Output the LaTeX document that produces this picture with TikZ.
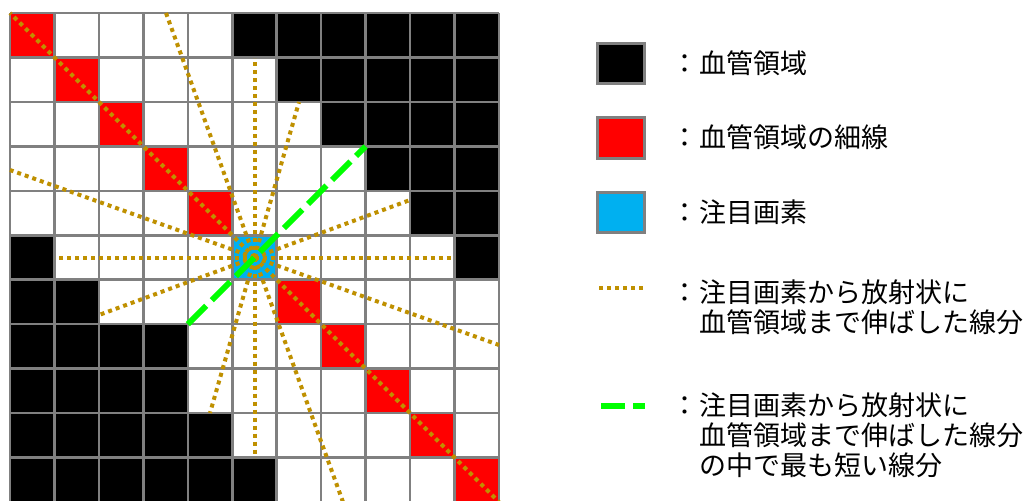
\documentclass[tikz,border=0pt]{standalone}
\usepackage{fontspec}
\newfontfamily\cjk{Noto Sans CJK JP}
\definecolor{gold}{HTML}{BF9000}
\definecolor{pxblue}{HTML}{00B0F0}
\definecolor{gridgray}{HTML}{808080}
\definecolor{shortgreen}{HTML}{00FF00}
\definecolor{thinred}{HTML}{FF0000}
\begin{document}
\begin{tikzpicture}[x=1pt,y=-1pt,
  ray/.style={draw=gold, line width=4pt, dash pattern=on 4pt off 4pt},
  shortest/.style={draw=shortgreen, line width=6pt, dash pattern=on 26pt off 8pt},
  cellgrid/.style={draw=gridgray, line width=2.6pt},
  legendbox/.style={draw=gridgray, line width=3pt},
  legtext/.style={font=\cjk\fontsize{27pt}{30pt}\selectfont, inner sep=0pt, anchor=west, text height=23.5pt, text depth=3.5pt},
  legcolon/.style={font=\cjk\fontsize{27pt}{30pt}\selectfont, inner sep=0pt, anchor=center, text height=23.5pt, text depth=3.5pt},
]
\useasboundingbox (0,0) rectangle (1029,501);
\def\s{44.45}
\begin{scope}
\clip (0,0) rectangle (1029,501);
% background of grid
\fill[white] (10,13) rectangle ({10+11*\s},{13+11*\s});
% vessel region (black)
\foreach \r/\a/\b in {0/5/10,1/6/10,2/7/10,3/8/10,4/9/10,5/0/0,5/10/10,6/0/1,7/0/3,8/0/3,9/0/4,10/0/5}{
  \foreach \c in {\a,...,\b}{
    \fill[black] ({10+\c*\s},{13+\r*\s}) rectangle ++(\s,\s);
  }
}
% thin line (red)
\foreach \r in {0,1,2,3,4,6,7,8,9,10}{
  \fill[thinred] ({10+\r*\s},{13+\r*\s}) rectangle ++(\s,\s);
}
% pixel of interest (blue)
\fill[pxblue] ({10+5*\s},{13+5*\s}) rectangle ++(\s,\s);
% grid lines
\foreach \i in {0,...,11}{
  \draw[cellgrid] ({10+\i*\s},13) -- ({10+\i*\s},{13+11*\s});
  \draw[cellgrid] (10,{13+\i*\s}) -- ({10+11*\s},{13+\i*\s});
}
% rays
\coordinate (c) at (254.5,257.5);
\coordinate (eUp) at (254.5,57.5);
\coordinate (eDown) at (254.5,457.5);
\coordinate (eLeft) at (54.5,257.5);
\coordinate (eRight) at (454.5,257.5);
\coordinate (eTL) at (10,13);
\coordinate (eBR) at (499,502);
\coordinate (eA) at (166,13);
\coordinate (eB) at (343,502);
\coordinate (eC) at (10,170);
\coordinate (eD) at (499,345);
\coordinate (eE) at (299,102);
\coordinate (eF) at (210,413);
\coordinate (eG) at (410,200);
\coordinate (eH) at (99,315);
\coordinate (gUR) at (365.6,146.4);
\coordinate (gLL) at (187.8,324.2);
\foreach \e in {eUp,eDown,eLeft,eRight,eTL,eBR,eA,eB,eC,eD,eE,eF,eG,eH}{
  \draw[ray] (c) -- (\e);
}
\draw[shortest] (gLL) -- (gUR);
\end{scope}
% legend
\fill[black, legendbox] (597,43) rectangle (644,83);
\fill[thinred, legendbox] (597,117) rectangle (644,158);
\fill[pxblue, legendbox] (597,192) rectangle (644,232);
\coordinate (l4a) at (599,288);
\coordinate (l4b) at (645,288);
\draw[ray] (l4a) -- (l4b);
\coordinate (l5a) at (601,406);
\coordinate (l5b) at (645,406);
\draw[shortgreen, line width=6pt, dash pattern=on 24pt off 8pt] (l5a) -- (l5b);
\node[legcolon] (c1) at (685,63) {：};
\node[legtext] (t1) at (699,63) {血管領域};
\node[legcolon] (c2) at (685,137) {：};
\node[legtext] (t2) at (699,137) {血管領域の細線};
\node[legcolon] (c3) at (685,212) {：};
\node[legtext] (t3) at (699,212) {注目画素};
\node[legcolon] (c4) at (685,292) {：};
\node[legtext] (t4a) at (699,292) {注目画素から放射状に};
\node[legtext] (t4b) at (699,322) {血管領域まで伸ばした線分};
\node[legcolon] (c5) at (685,405) {：};
\node[legtext] (t5a) at (699,405) {注目画素から放射状に};
\node[legtext] (t5b) at (699,435) {血管領域まで伸ばした線分};
\node[legtext] (t5c) at (699,465) {の中で最も短い線分};
\end{tikzpicture}
\end{document}
